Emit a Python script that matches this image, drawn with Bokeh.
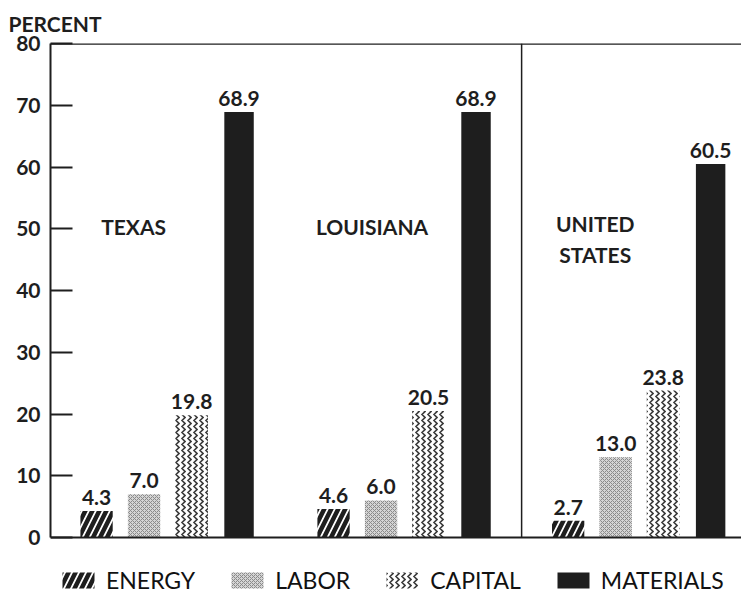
from bokeh.plotting import figure
from bokeh.models import Range1d, FixedTicker, Span, Label, Legend, LegendItem, ColumnDataSource
from bokeh.embed import file_html
from bokeh.resources import INLINE

# ---- data ----
regions = ["TEXAS", "LOUISIANA", "UNITED STATES"]
factors = ["ENERGY", "LABOR", "CAPITAL", "MATERIALS"]
energy = [4.3, 4.6, 2.7]
labor = [7.0, 6.0, 13.0]
capital = [19.8, 20.5, 23.8]
materials = [68.9, 68.9, 60.5]
y_ticks = [0, 10, 20, 30, 40, 50, 60, 70, 80]
y_label = "PERCENT"

series = [energy, labor, capital, materials]

# ---- layout constants (slot units) ----
group_start = [0.97, 5.96, 10.9]
region_label_x = [1.75, 6.77, 11.47]
region_label_y = [50.4, 50.4, 48.3]
separator_x = 9.92
bar_widths = [0.68, 0.68, 0.69, 0.62]
y_min_canvas = -10.2   # extra room below zero for the legend
FONT = "Lato"
INK = "#1e1e1e"

styles = [
    dict(fill_color="white", hatch_pattern="right_diagonal_line", hatch_color=INK,
         hatch_weight=4.5, hatch_scale=14),
    dict(fill_color="#d4d4d4", hatch_pattern="diagonal_cross", hatch_color="#8a8a8a",
         hatch_weight=1, hatch_scale=4),
    dict(fill_color="white", hatch_pattern="vertical_wave", hatch_color="#3a3a3a",
         hatch_weight=1.6, hatch_scale=6),
    dict(fill_color=INK),
]

p = figure(frame_width=691, frame_height=557, output_backend="svg", toolbar_location=None,
           x_range=Range1d(0, 14.55), y_range=Range1d(y_min_canvas, 80),
           min_border_left=50, min_border_right=0, min_border_top=43, min_border_bottom=0,
           title=y_label)
p.title.align = "left"
p.title.offset = -42
p.title.text_font = FONT
p.title.text_font_style = "bold"
p.title.text_font_size = "21px"
p.title.text_color = INK
p.title.standoff = 15
p.outline_line_color = None
p.xgrid.visible = False
p.ygrid.visible = False
p.xaxis.visible = False
p.background_fill_color = "white"
p.border_fill_color = "white"

ya = p.yaxis[0]
ya.ticker = FixedTicker(ticks=y_ticks)
ya.bounds = (0, 80)
ya.major_tick_in = 22
ya.major_tick_out = 0
ya.minor_tick_line_color = None
ya.axis_line_width = 2
ya.axis_line_color = INK
ya.major_tick_line_width = 2
ya.major_tick_line_color = INK
ya.major_label_text_font = FONT
ya.major_label_text_font_style = "bold"
ya.major_label_text_font_size = "21px"
ya.major_label_text_color = INK
ya.major_label_standoff = 10

renderers = []
for i, (name, vals) in enumerate(zip(factors, series)):
    xs = [g + i for g in group_start]
    src = ColumnDataSource(dict(x=xs, top=vals, lab=[f"{v:.1f}" for v in vals]))
    r = p.vbar(x="x", top="top", bottom=0, width=bar_widths[i], source=src, line_color=None,
               **styles[i])
    renderers.append(r)
    p.text(x="x", y="top", text="lab", source=src, text_align="center", text_baseline="bottom",
           y_offset=-6, text_font={"value": FONT}, text_font_style="bold",
           text_font_size="21px", text_color=INK)

# frame lines
p.add_layout(Span(location=0, dimension="width", line_color=INK, line_width=2))
p.add_layout(Span(location=80, dimension="width", line_color=INK, line_width=2.5))
p.segment(x0=[separator_x], y0=[0], x1=[separator_x], y1=[80], line_color=INK, line_width=1.5)

for name, lx, ly in zip(regions, region_label_x, region_label_y):
    p.add_layout(Label(x=lx, y=ly, text=name.replace(" ", "\n"), text_align="center",
                       text_baseline="middle", text_font=FONT, text_font_style="bold",
                       text_font_size="21px", text_color=INK, text_line_height=1.25,
                       background_fill_color="white"))

legend = Legend(items=[LegendItem(label=f, renderers=[r]) for f, r in zip(factors, renderers)],
                orientation="horizontal", location=(8, 6), glyph_width=40, glyph_height=20,
                label_text_font=FONT, label_text_font_size="23px", label_text_color="#111111",
                spacing=32, label_standoff=8, border_line_color=None,
                background_fill_alpha=0, padding=0, margin=0)
p.add_layout(legend, "center")

open("out.html", "w").write(file_html(p, INLINE))
